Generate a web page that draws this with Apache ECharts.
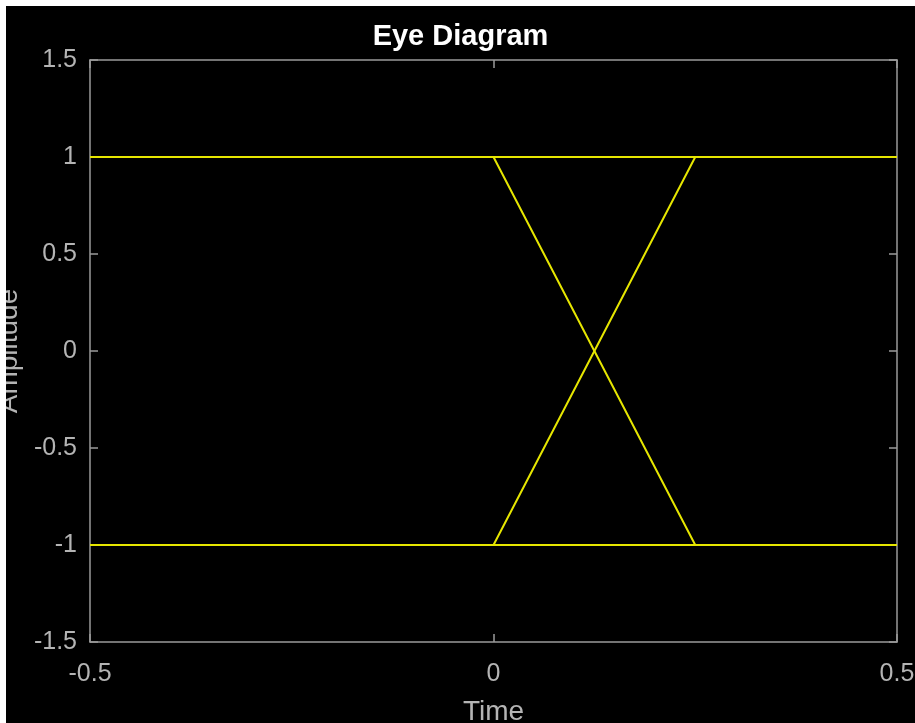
<!DOCTYPE html>
<html>
<head>
<meta charset="utf-8">
<script src="https://cdn.jsdelivr.net/npm/echarts@6/dist/echarts.min.js"></script>
<style>
  html, body { margin: 0; padding: 0; background: #fff; }
  #chart { position: absolute; left: 6px; top: 6px; width: 909px; height: 717px; background: #000; }
</style>
</head>
<body>
<div id="chart"></div>
<script>
// eye diagram: one symbol period of each trace
var timePoints = [-0.5, 0, 0.25, 0.5];
var traceHigh = [1, 1, 1, 1];
var traceLow = [-1, -1, -1, -1];
var traceFall = [1, 1, -1, -1];
var traceRise = [-1, -1, 1, 1];
var xTicks = [-0.5, 0, 0.5];
var yTicks = [-1.5, -1, -0.5, 0, 0.5, 1, 1.5];

var axisColor = '#9a9a9a';
var textColor = '#b4b4b4';
var traceColor = '#e6e600';
var fontFamily = 'Liberation Sans, Arial, Helvetica, sans-serif';

function pairs(xs, ys) {
  var out = [];
  for (var i = 0; i < xs.length; ++i) {
    out.push([xs[i], ys[i]]);
  }
  return out;
}

function makeTrace(ys) {
  return {
    type: 'line',
    data: pairs(timePoints, ys),
    showSymbol: false,
    symbol: 'none',
    animation: false,
    lineStyle: { color: traceColor, width: 2 }
  };
}

function boxAxis(pos, isX, labels) {
  var ticks = isX ? xTicks : yTicks;
  return {
    type: 'value',
    position: pos,
    min: ticks[0],
    max: ticks[ticks.length - 1],
    interval: 0.5,
    axisLine: { show: true, onZero: false, lineStyle: { color: axisColor, width: 1.5 } },
    axisTick: { show: true, inside: true, length: 8, lineStyle: { color: axisColor, width: 1.5 } },
    axisLabel: {
      show: labels,
      color: textColor,
      fontSize: 25,
      fontFamily: fontFamily,
      margin: isX ? 20 : 13,
      // nudge y labels a little below their ticks, as in the source
      padding: isX ? 0 : [6, 0, 0, 0]
    },
    splitLine: { show: false }
  };
}

var chart = echarts.init(document.getElementById('chart'));

var xBottom = boxAxis('bottom', true, true);
xBottom.name = 'Time';
xBottom.nameLocation = 'middle';
xBottom.nameGap = 56;
xBottom.nameTextStyle = { color: textColor, fontSize: 28, fontFamily: fontFamily };

var yLeft = boxAxis('left', false, true);
yLeft.name = 'Amplitude';
yLeft.nameLocation = 'middle';
yLeft.nameGap = 67;
yLeft.nameTextStyle = { color: textColor, fontSize: 28, fontFamily: fontFamily };

chart.setOption({
  backgroundColor: '#000',
  animation: false,
  title: {
    text: 'Eye Diagram',
    left: 'center',
    top: 11,
    textStyle: { color: '#fff', fontSize: 29, fontWeight: 'bold', fontFamily: fontFamily }
  },
  grid: { left: 84, top: 54, right: 18, bottom: 81, containLabel: false, outerBoundsMode: 'none' },
  xAxis: [xBottom, boxAxis('top', true, false)],
  yAxis: [yLeft, boxAxis('right', false, false)],
  series: [
    makeTrace(traceHigh),
    makeTrace(traceLow),
    makeTrace(traceFall),
    makeTrace(traceRise)
  ]
});
</script>
</body>
</html>
